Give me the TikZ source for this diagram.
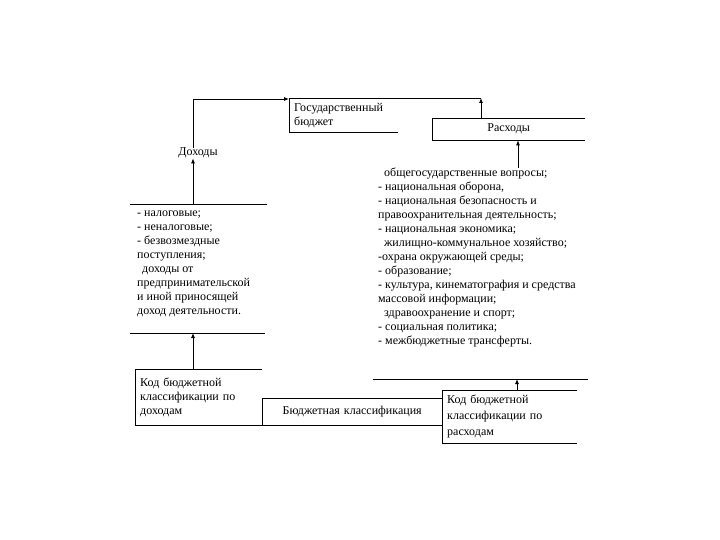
\documentclass[tikz,border=0pt]{standalone}
\usepackage{fontspec}
\setmainfont{Liberation Serif}
\usetikzlibrary{arrows.meta,positioning,calc}

\begin{document}
\begin{tikzpicture}[x=1pt,y=-1pt,
  every node/.style={font=\fontsize{12}{14}\selectfont, inner sep=0pt},
  txt/.style={anchor=north west, align=left},
  box/.style={anchor=north west, align=left, inner xsep=5pt},
  lnk/.style={draw=black, line width=0.8pt},
  arr/.style={lnk, -{Latex[length=5pt,width=4pt]}}
]
\useasboundingbox (0,0) rectangle (720,540);

%% Top: budget and expenses
\node[box, minimum width=109pt, minimum height=34pt, text width=99pt]
  (budget) at (289,98) {Государственный\\бюджет};
\node[box, minimum width=153pt, minimum height=22pt, text width=143pt, align=center]
  (rashody) at (432,118) {Расходы};
\coordinate (rtop) at (481,98);

%% Income side
\node (dohody) at (198,153) {Доходы};
\coordinate (inA) at (130,204);
\coordinate (inB) at (267,204);
\node[txt] (inlist) at (137,211) {- налоговые;\\- неналоговые;\\- безвозмездные\\поступления;\\\hspace*{5pt}доходы от\\предпринимательской\\и иной приносящей\\доход деятельности.};
\coordinate (inC) at (130,333);
\coordinate (inD) at (265,333);
\node[box, minimum width=127pt, minimum height=56pt, text width=117pt]
  (kodin) at (135,369) {Код бюджетной\\классификации по\\доходам};

%% Expense side
\node[txt] (outlist) at (378,168) {\hspace*{6pt}общегосударственные вопросы;\\- национальная оборона,\\- национальная безопасность и\\правоохранительная деятельность;\\- национальная экономика;\\\hspace*{6pt}жилищно-коммунальное хозяйство;\\-охрана окружающей среды;\\- образование;\\- культура, кинематография и средства\\массовой информации;\\\hspace*{6pt}здравоохранение и спорт;\\- социальная политика;\\- межбюджетные трансферты.};
\coordinate (outA) at (373,379);
\coordinate (outB) at (588,379);

%% Bottom: classification
\node[box, minimum width=180pt, minimum height=27pt, text width=170pt, align=center]
  (klass) at (262,398) {Бюджетная классификация};
\node[box, minimum width=135pt, minimum height=53pt, text width=125pt,
      font=\fontsize{12}{16}\selectfont]
  (kodout) at (442,390) {Код бюджетной\\классификации  по\\расходам};

%% Box outlines (open on the right)
\draw[lnk] (rtop) -- (budget.north west) -- (budget.south west) -- (budget.south east);
\draw[lnk] (rashody.north east) -- (rashody.north west) -- (rashody.south west) -- (rashody.south east);
\draw[lnk] (kodin.north east) -- (kodin.north west) -- (kodin.south west) -- (klass.south east);
\draw[lnk] (klass.north east) -- (klass.north west) -- (klass.south west);
\draw[lnk] (kodout.north east) -- (kodout.north west) -- (kodout.south west) -- (kodout.south east);

%% Separator lines
\draw[lnk] (inA) -- (inB);
\draw[lnk] (inC) -- (inD);
\draw[lnk] (outA) -- (outB);

%% Arrows
\draw[arr] (dohody.north -| 193,0) |- ([yshift=-1pt]budget.north west);
\draw[arr] (rashody.north -| rtop) -- (rtop);
\draw[arr] (inA -| 193,0) -- (dohody.south -| 193,0);
\draw[arr] (kodin.north -| 193,0) -- (inC -| 193,0);
\draw[arr] (outlist.north -| 518,0) -- (rashody.south -| 518,0);
\draw[arr] (kodout.north -| 517,0) -- (outA -| 517,0);

\end{tikzpicture}
\end{document}
